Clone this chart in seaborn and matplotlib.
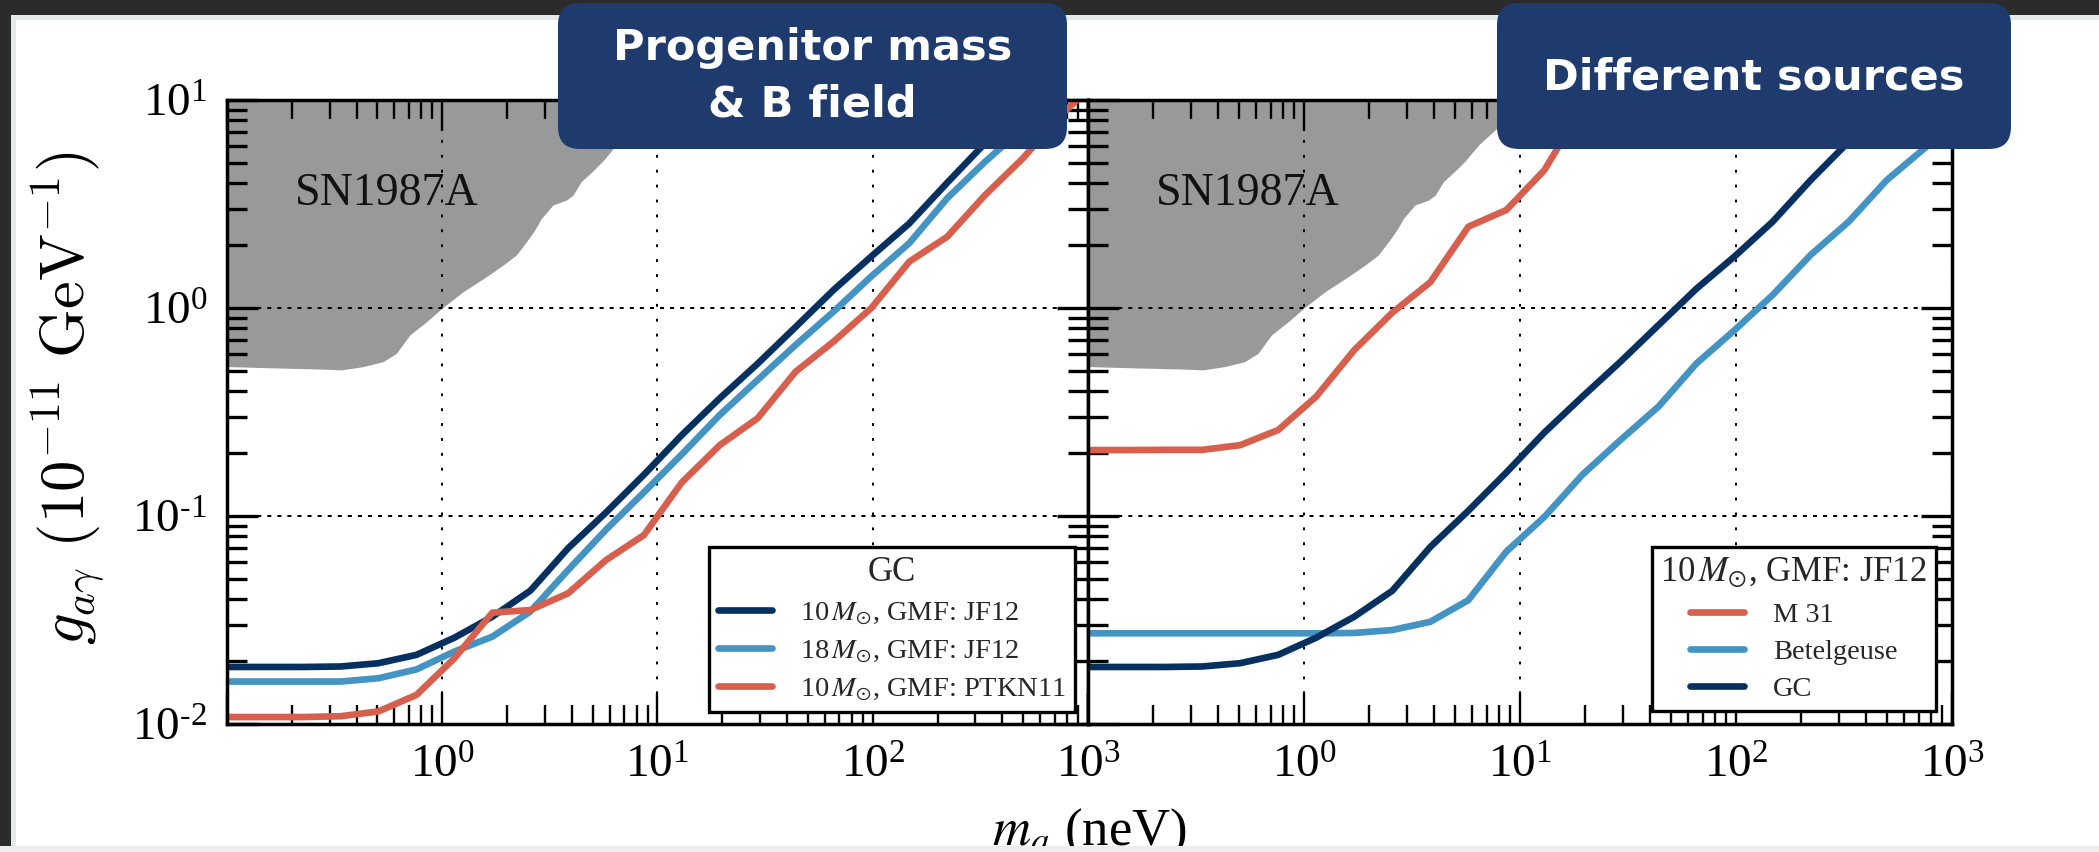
import numpy as np
import pandas as pd
import matplotlib
matplotlib.use("Agg")
import matplotlib.pyplot as plt
import seaborn as sns
from matplotlib.patches import FancyBboxPatch, Rectangle
from matplotlib.ticker import FixedLocator, LogLocator, FuncFormatter, NullFormatter

# ---------------- data ----------------
mass = [0.1, 0.15, 0.225, 0.3375, 0.506, 0.759, 1.139, 1.709, 2.563, 3.844, 5.767, 8.65,
        12.97, 19.46, 29.19, 43.8, 65.7, 98.5, 147.8, 221.7, 332.5, 498.8, 748.0, 1122.0]

g_10_jf12 = [0.0188, 0.0188, 0.0188, 0.0189, 0.0196, 0.0215, 0.026, 0.0328, 0.0437, 0.070, 0.104, 0.158,
             0.245, 0.368, 0.54, 0.81, 1.22, 1.77, 2.55, 4.0, 6.2, 9.4, 14.0, 21.0]
g_18_jf12 = [0.0160, 0.0160, 0.0160, 0.0160, 0.0166, 0.0183, 0.0223, 0.0263, 0.0347, 0.055, 0.086, 0.13,
             0.198, 0.306, 0.451, 0.664, 0.96, 1.42, 2.05, 3.37, 5.05, 7.31, 10.5, 15.5]
g_10_ptkn11 = [0.0108, 0.0108, 0.0108, 0.0109, 0.0115, 0.0138, 0.0207, 0.0343, 0.0353, 0.0425, 0.0614, 0.081,
               0.145, 0.219, 0.295, 0.494, 0.689, 1.0, 1.67, 2.2, 3.49, 5.25, 8.47, 12.5]

mass_m31 = [0.1, 0.15, 0.225, 0.3375, 0.506, 0.759, 1.139, 1.709, 2.563, 3.844, 5.767, 8.65, 12.97, 19.46, 29.19]
g_m31 = [0.2075, 0.2075, 0.208, 0.208, 0.219, 0.259, 0.375, 0.628, 0.95, 1.33, 2.46, 2.96, 4.6, 9.3, 14.0]
g_betelgeuse = [0.0273, 0.0273, 0.0273, 0.0273, 0.0273, 0.0273, 0.0273, 0.0274, 0.0283, 0.031, 0.0394, 0.0675,
                0.099, 0.158, 0.232, 0.336, 0.542, 0.783, 1.155, 1.8, 2.6, 4.12, 5.87, 8.5]
g_gc = [0.0188, 0.0188, 0.0188, 0.0189, 0.0196, 0.0215, 0.026, 0.0328, 0.0437, 0.071, 0.106, 0.162,
        0.252, 0.375, 0.552, 0.828, 1.24, 1.77, 2.6, 4.12, 6.3, 9.5, 14.2, 21.0]

sn_x = [0.1, 0.158, 0.27, 0.34, 0.43, 0.531, 0.612, 0.706, 0.845, 1.0, 1.25, 1.6, 1.92, 2.21, 2.46,
        2.69, 2.89, 3.27, 3.77, 4.05, 4.42, 5.01, 5.58, 6.45, 7.8, 9.0, 10.5]
sn_y = [0.523, 0.516, 0.509, 0.504, 0.523, 0.552, 0.605, 0.741, 0.859, 1.0, 1.197, 1.413, 1.61, 1.80, 2.08,
        2.37, 2.70, 3.13, 3.30, 3.49, 4.05, 4.56, 5.1, 6.1, 7.3, 8.8, 10.5]

labels_left = [r"10$\,M_{\odot}$, GMF: JF12", r"18$\,M_{\odot}$, GMF: JF12", r"10$\,M_{\odot}$, GMF: PTKN11"]
labels_right = ["M 31", "Betelgeuse", "GC"]
title_left = "GC"
title_right = r"10$\,M_{\odot}$, GMF: JF12"
xticks = [0.1, 1, 10, 100, 1000]
yticks = [0.01, 0.1, 1, 10]

NAVY, LIGHT, RED = "#06305f", "#4393c3", "#d6604d"
GRAY = "#999999"

# ---------------- style ----------------
sns.set_theme(style="white")
plt.rcParams["font.family"] = ["Liberation Serif", "DejaVu Serif"]
plt.rcParams["mathtext.fontset"] = "stix"
plt.rcParams["axes.linewidth"] = 2.5

W, H = 2099, 852
fig = plt.figure(figsize=(W / 100, H / 100), dpi=100)
fig.patch.set_facecolor("white")

ax1 = fig.add_axes([227 / W, 1 - 724 / H, 861 / W, 624 / H])
ax2 = fig.add_axes([1088 / W, 1 - 724 / H, 864 / W, 624 / H])

LW = 4.8


def pow_label(v, p):
    e = int(round(np.log10(v)))
    if e < 0:
        return r"$\mathregular{10^{\text{-}%d}}$" % (-e)
    return r"$\mathregular{10^{%d}}$" % e


def style_axis(ax, show_ylabels):
    ax.set_xscale("log")
    ax.set_yscale("log")
    ax.set_xlim(0.1, 1000)
    ax.set_ylim(0.01, 10)
    ax.set_facecolor("white")
    for s in ax.spines.values():
        s.set_color("black")
        s.set_linewidth(2.5)
    ax.xaxis.set_major_locator(FixedLocator(xticks))
    ax.xaxis.set_minor_locator(LogLocator(base=10, subs=np.arange(2, 10), numticks=30))
    ax.yaxis.set_major_locator(FixedLocator(yticks))
    ax.yaxis.set_minor_locator(LogLocator(base=10, subs=np.arange(2, 10), numticks=30))
    ax.xaxis.set_major_formatter(FuncFormatter(lambda v, p: "" if v < 0.5 else pow_label(v, p)))
    ax.yaxis.set_major_formatter(FuncFormatter(pow_label))
    ax.xaxis.set_minor_formatter(NullFormatter())
    ax.yaxis.set_minor_formatter(NullFormatter())
    ax.tick_params(which="both", direction="in", top=True, right=True, bottom=True, left=True,
                   colors="black", labelsize=34)
    ax.tick_params(axis="x", which="major", length=22, width=1.7, pad=15)
    ax.tick_params(axis="x", which="minor", length=14, width=1.7)
    ax.tick_params(axis="y", which="major", length=22, width=2.4, pad=14)
    ax.tick_params(axis="y", which="minor", length=14.5, width=2.4)
    if not show_ylabels:
        ax.tick_params(axis="y", which="both", labelleft=False)
    ax.set_axisbelow("line")
    ax.grid(True, which="major", axis="x", color="black", lw=1.45, linestyle=(0, (1.4, 6.0)))
    ax.grid(True, which="major", axis="y", color="black", lw=1.45, linestyle=(0, (2.0, 3.0)))
    ax.fill_between(sn_x, sn_y, 10, color=GRAY, lw=0, zorder=1)
    ax.text(0.207, 3.55, "SN1987A", fontsize=33, va="center", ha="left", color="#111111", zorder=1.2)


# left panel
sns.lineplot(x=mass, y=g_10_jf12, ax=ax1, color=NAVY, lw=LW, label=labels_left[0], sort=False)
sns.lineplot(x=mass, y=g_18_jf12, ax=ax1, color=LIGHT, lw=LW, label=labels_left[1], sort=False)
sns.lineplot(x=mass, y=g_10_ptkn11, ax=ax1, color=RED, lw=LW, label=labels_left[2], sort=False)
style_axis(ax1, True)

# right panel
sns.lineplot(x=mass_m31, y=g_m31, ax=ax2, color=RED, lw=LW, label=labels_right[0], sort=False)
sns.lineplot(x=mass, y=g_betelgeuse, ax=ax2, color=LIGHT, lw=LW, label=labels_right[1], sort=False)
sns.lineplot(x=mass, y=g_gc, ax=ax2, color=NAVY, lw=LW, label=labels_right[2], sort=False)
style_axis(ax2, False)

for ax, title, anchor in ((ax1, title_left, (0.985, 0.02)), (ax2, title_right, (0.981, 0.021))):
    leg = ax.legend(title=title, loc="lower right", bbox_to_anchor=anchor, borderaxespad=0,
                    fontsize=20.5, title_fontsize=25, frameon=True, fancybox=False,
                    edgecolor="black", facecolor="white", framealpha=1, borderpad=0.3,
                    handlelength=1.9, handletextpad=1.0, labelspacing=0.4)
    leg.get_frame().set_linewidth(2.4)
    leg.set_zorder(5)

ax1.set_ylabel(r"$g_{a\gamma}\ (10^{-11}\ \mathrm{GeV}^{-1})$", fontsize=45, math_fontfamily="cm",
               va="center", color="black")
ax1.yaxis.set_label_coords((68 - 227) / 861, (724 - 398) / 624)
ax2.set_ylabel("")

fig.text(1089 / W, 1 - 845 / H, r"$m_a$ (neV)", ha="center", va="baseline", fontsize=38, color="black")

# ---------------- overlay: slide frame and title boxes ----------------
ov = fig.add_axes([0, 0, 1, 1], zorder=20)
ov.set_xlim(0, W)
ov.set_ylim(H, 0)
ov.axis("off")
ov.patch.set_alpha(0)
ov.add_patch(Rectangle((0, 0), W, 15, fc="#2b2b2b", ec="none"))
ov.add_patch(Rectangle((0, 0), 11, H, fc="#2b2b2b", ec="none"))
ov.add_patch(Rectangle((11, 15), W, 5, fc="#e4e9e9", ec="none"))
ov.add_patch(Rectangle((11, 15), 5, H, fc="#e4e9e9", ec="none"))
ov.add_patch(Rectangle((0, 846), W, 6, fc="#eceeee", ec="none"))

BOX = "#1f3b6d"
ov.add_patch(FancyBboxPatch((558, 3), 509, 146, boxstyle="round,pad=0,rounding_size=22", fc=BOX, ec="none"))
ov.add_patch(FancyBboxPatch((1497, 3), 514, 146, boxstyle="round,pad=0,rounding_size=22", fc=BOX, ec="none"))
ov.text(812.5, 76, "Progenitor mass\n& B field", ha="center", va="center", color="white",
        fontsize=31, fontweight="bold", family=["DejaVu Sans"], linespacing=1.45)
ov.text(1754, 77, "Different sources", ha="center", va="center", color="white",
        fontsize=31, fontweight="bold", family=["DejaVu Sans"])

fig.savefig("out.png", dpi=100, facecolor=fig.get_facecolor())
